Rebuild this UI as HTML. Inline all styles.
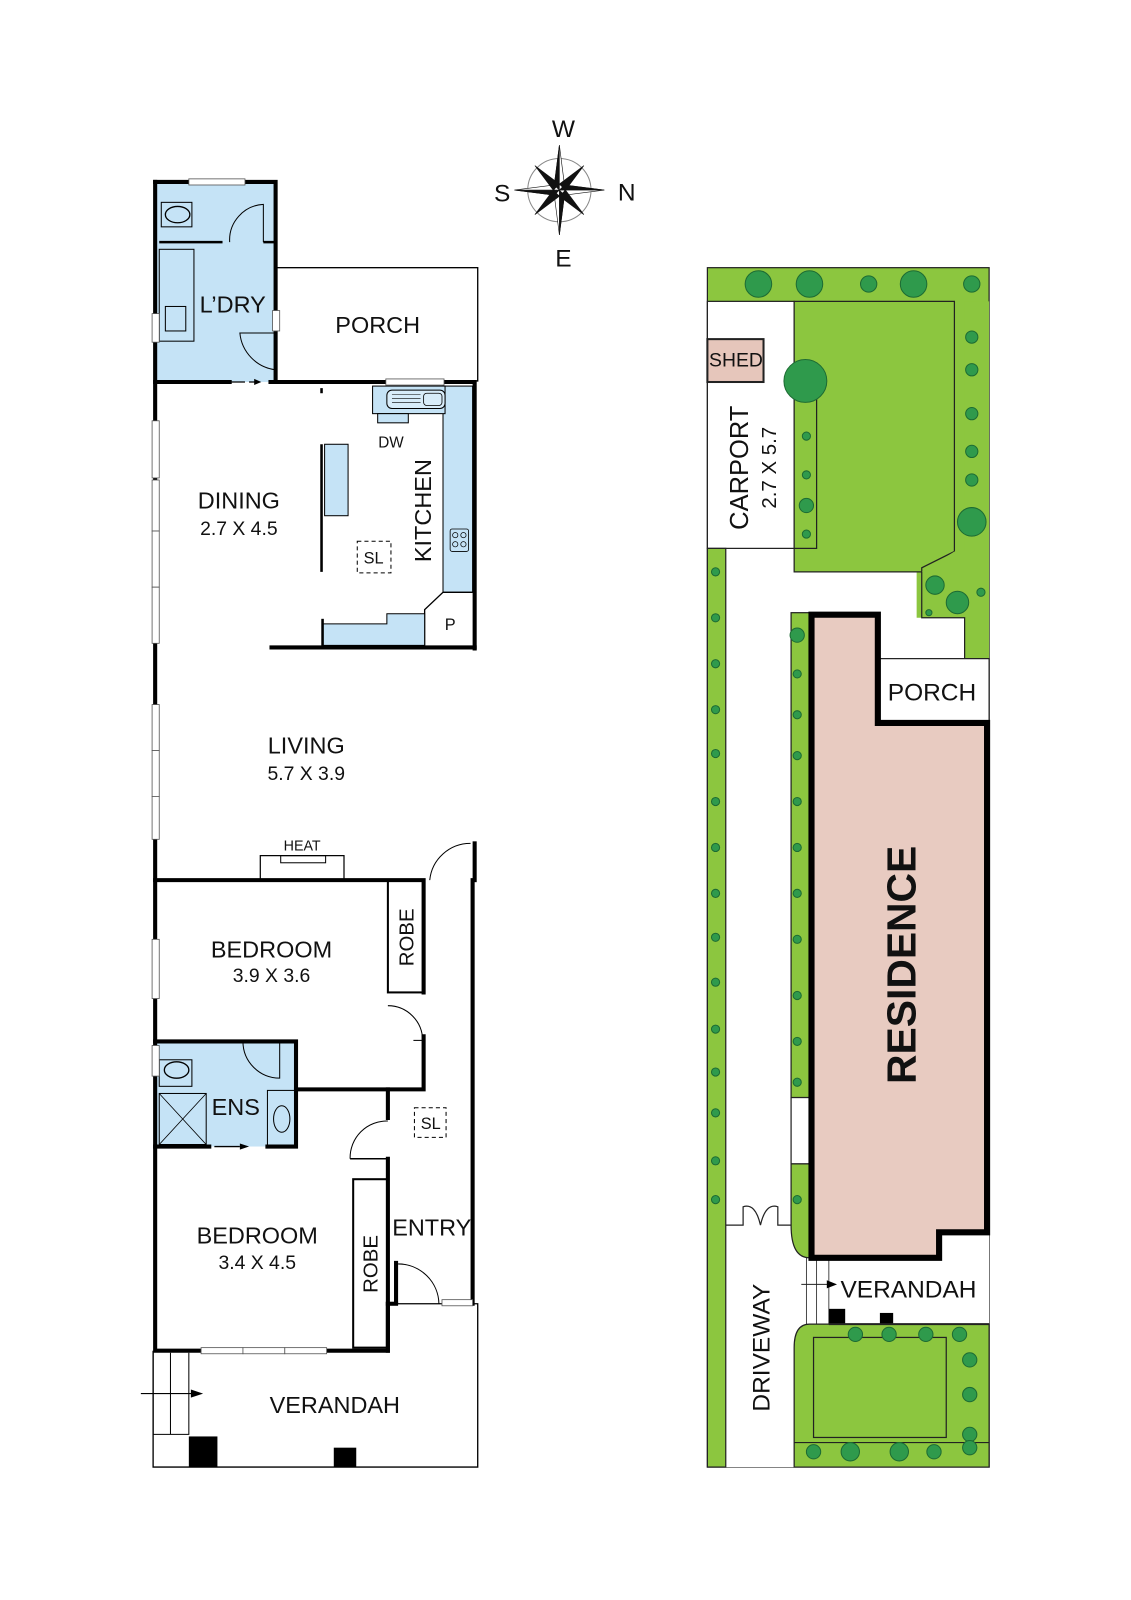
<!DOCTYPE html>
<html><head><meta charset="utf-8"><style>
html,body{margin:0;padding:0;background:#fff;}
svg{display:block;}
text{font-family:"Liberation Sans",sans-serif;fill:#111;}
</style></head><body>
<svg width="1131" height="1600" viewBox="0 0 1108 1567" xmlns="http://www.w3.org/2000/svg">

<!-- ================= COMPASS ================= -->
<g transform="translate(548,186)">
  <circle r="31" fill="none" stroke="#888" stroke-width="1"/>
  <g fill="#111" stroke="#111" stroke-width="0.6">
    <polygon points="0,-44 5,-5 -5,-5" fill="#fff"/>
    <polygon points="0,-44 0,0 -5,-5"/>
    <polygon points="44,0 5,5 5,-5" fill="#fff"/>
    <polygon points="44,0 0,0 5,-5"/>
    <polygon points="0,44 -5,5 5,5" fill="#fff"/>
    <polygon points="0,44 0,0 5,5"/>
    <polygon points="-44,0 -5,-5 -5,5" fill="#fff"/>
    <polygon points="-44,0 0,0 -5,5"/>
    <polygon points="24,-24 6,0 0,-6"/>
    <polygon points="24,24 0,6 6,0"/>
    <polygon points="-24,24 -6,0 0,6"/>
    <polygon points="-24,-24 0,-6 -6,0"/>
  </g>
  <text x="4" y="-52" font-size="24" text-anchor="middle">W</text>
  <text x="66" y="10" font-size="24" text-anchor="middle">N</text>
  <text x="-56" y="11" font-size="24" text-anchor="middle">S</text>
  <text x="4" y="75" font-size="24" text-anchor="middle">E</text>
</g>

<!-- ================= LEFT FLOOR PLAN ================= -->
<g stroke="#000" fill="none">
  <rect x="153" y="180" width="118" height="194" fill="#c5e3f6" stroke="none"/>
  <rect x="153" y="1020" width="137" height="103" fill="#c5e3f6" stroke="none"/>
  <rect x="271" y="262" width="197" height="111" stroke-width="1.3"/>
  <polyline points="380,1277 468,1277 468,1437 150,1437 150,1323" stroke-width="1.3"/>
  <path d="M150,1325 V1405 H185 V1325 M167,1325 V1405" stroke-width="1"/>
  <path d="M138,1365 H195" stroke-width="1"/>
  <polygon points="187,1361 199,1365 187,1369" fill="#000" stroke="none"/>
  <rect x="185" y="1407" width="28" height="30" fill="#000" stroke="none"/>
  <rect x="327" y="1418" width="22" height="19" fill="#000" stroke="none"/>

  <g stroke-width="4" stroke-linecap="square">
    <path d="M152,178 V1323 H380 V1277"/>
    <path d="M152,178 H185 M240,178 H270 V374"/>
    <path d="M152,374 H225 M265,374 H465 V635"/>
    <path d="M266,634 H465"/>
    <path d="M465,862 V826"/>
    <path d="M152,862 H415 V972 M415,1015 V1067 H290"/>
    <path d="M152,1020 H290 V1123 H262 M152,1123 H205"/>
    <path d="M463,862 V1277 H435"/>
    <path d="M380,1067 V1095 M380,1135 V1323"/>
    <path d="M388,1277 H380"/>
  </g>
  <path d="M156,237 H218 M258,237 H270" stroke-width="2.5"/>
  <rect x="158" y="198" width="30" height="24" fill="#c5e3f6" stroke-width="1"/>
  <ellipse cx="174" cy="210" rx="12" ry="8" stroke-width="1.3"/>
  <rect x="156" y="244" width="34" height="90" stroke-width="1"/>
  <rect x="162" y="300" width="20" height="24" stroke-width="1"/>
  <path d="M225,237 A35,35 0 0 1 258,200 V237" stroke-width="1"/>
  <path d="M235,326 A40,40 0 0 0 270,362 V326 Z" stroke-width="1"/>
  <path d="M222,374 H240 M244,374 H254" stroke-width="1.3"/>
  <polygon points="249,371 256,374 249,377" fill="#000" stroke="none"/>

  <rect x="434" y="378" width="29" height="202" fill="#c5e3f6" stroke-width="1"/>
  <rect x="365" y="378" width="71" height="27" fill="#c5e3f6" stroke-width="1"/>
  <rect x="370" y="405" width="30" height="9" fill="#c5e3f6" stroke-width="1"/>
  <rect x="379" y="382" width="57" height="18" rx="5" fill="#d8ecf9" stroke-width="1"/>
  <rect x="415" y="385" width="18" height="12" rx="3" stroke-width="0.8"/>
  <path d="M384,386 H412 M384,390 H412 M384,394 H412" stroke-width="0.6"/>
  <rect x="441" y="518" width="18" height="22" rx="2" stroke-width="0.8"/>
  <circle cx="446" cy="524" r="2.6" stroke-width="0.7"/><circle cx="454" cy="524" r="2.6" stroke-width="0.7"/>
  <circle cx="446" cy="533" r="2.6" stroke-width="0.7"/><circle cx="454" cy="533" r="2.6" stroke-width="0.7"/>
  <path d="M315,435 V560" stroke-width="2.5"/>
  <path d="M315,380 V385" stroke-width="2.5"/>
  <rect x="318" y="435" width="23" height="70" fill="#c5e3f6" stroke-width="1"/>
  <rect x="350" y="530" width="33" height="31" stroke-width="1" stroke-dasharray="4,3"/>
  <path d="M416,632 V597 L434,580 H463" stroke-width="1.3"/>
  <path d="M316,632 V611 H379 V601 H416 V632 Z" fill="#c5e3f6" stroke-width="1"/>
  <path d="M316,606 V634" stroke-width="2.5"/>

  <rect x="255" y="838" width="82" height="24" stroke-width="1.2"/>
  <rect x="275" y="838" width="44" height="7" stroke-width="1"/>
  <path d="M421,862 A40,40 0 0 1 461,826" stroke-width="1"/>

  <rect x="380" y="862" width="35" height="110" stroke-width="2"/>
  <path d="M380,985 A34,34 0 0 1 414,1019" stroke-width="1"/>
  <path d="M415,1019 H405" stroke-width="1"/>

  <rect x="156" y="1038" width="32" height="26" fill="#c5e3f6" stroke-width="1"/>
  <ellipse cx="173" cy="1048" rx="12" ry="8" stroke-width="1.3"/>
  <rect x="156" y="1071" width="46" height="50" stroke-width="1"/>
  <path d="M156,1071 L202,1121 M202,1071 L156,1121" stroke-width="0.8"/>
  <path d="M238,1020 A36,36 0 0 0 274,1056 V1020" stroke-width="1"/>
  <rect x="262" y="1068" width="28" height="55" stroke-width="1"/>
  <ellipse cx="276" cy="1096" rx="8" ry="13" stroke-width="1"/>
  <path d="M210,1123 H235" stroke-width="1.3"/>
  <polygon points="235,1120 244,1123 235,1126" fill="#000" stroke="none"/>

  <path d="M343,1135 A36,36 0 0 1 380,1098" stroke-width="1"/>
  <path d="M343,1135 H380" stroke-width="1.5"/>
  <rect x="406" y="1085" width="31" height="29" stroke-width="1" stroke-dasharray="4,3"/>
  <rect x="346" y="1155" width="34" height="165" stroke-width="2"/>
  <path d="M390,1238 A40,40 0 0 1 430,1277" stroke-width="1"/>
  <path d="M388,1235 V1277" stroke-width="4"/>

  <g fill="#fff" stroke="#555" stroke-width="0.8">
    <rect x="185" y="175" width="55" height="6"/>
    <rect x="378" y="371" width="57" height="6"/>
    <rect x="267" y="304" width="7" height="20"/>
    <rect x="149" y="307" width="7" height="28"/>
    <rect x="149" y="412" width="7" height="56"/>
    <rect x="149" y="470" width="7" height="50"/>
    <rect x="149" y="520" width="7" height="55"/>
    <rect x="149" y="575" width="7" height="55"/>
    <rect x="149" y="690" width="7" height="45"/>
    <rect x="149" y="735" width="7" height="45"/>
    <rect x="149" y="780" width="7" height="42"/>
    <rect x="149" y="920" width="7" height="58"/>
    <rect x="149" y="1024" width="7" height="30"/>
    <rect x="197" y="1320" width="41" height="6"/>
    <rect x="238" y="1320" width="41" height="6"/>
    <rect x="279" y="1320" width="41" height="6"/>
    <rect x="433" y="1273" width="30" height="6"/>
  </g>
</g>

<g font-size="23">
  <text x="228" y="306" text-anchor="middle">L’DRY</text>
  <text x="370" y="326" text-anchor="middle">PORCH</text>
  <text x="234" y="498" text-anchor="middle">DINING</text>
  <text x="234" y="524" text-anchor="middle" font-size="19">2.7 X 4.5</text>
  <text x="383" y="438" font-size="15" text-anchor="middle">DW</text>
  <text x="366" y="552" font-size="16" text-anchor="middle">SL</text>
  <text transform="translate(422,500) rotate(-90)" text-anchor="middle">KITCHEN</text>
  <text x="441" y="617" font-size="16" text-anchor="middle">P</text>
  <text x="300" y="738" text-anchor="middle">LIVING</text>
  <text x="300" y="764" text-anchor="middle" font-size="19">5.7 X 3.9</text>
  <text x="296" y="833" text-anchor="middle" font-size="14">HEAT</text>
  <text x="266" y="938" text-anchor="middle">BEDROOM</text>
  <text x="266" y="962" text-anchor="middle" font-size="19">3.9 X 3.6</text>
  <text transform="translate(405,918) rotate(-90)" text-anchor="middle" font-size="20">ROBE</text>
  <text x="231" y="1092" text-anchor="middle">ENS</text>
  <text x="422" y="1106" text-anchor="middle" font-size="16">SL</text>
  <text x="252" y="1218" text-anchor="middle">BEDROOM</text>
  <text x="252" y="1243" text-anchor="middle" font-size="19">3.4 X 4.5</text>
  <text transform="translate(370,1238) rotate(-90)" text-anchor="middle" font-size="20">ROBE</text>
  <text x="423" y="1210" text-anchor="middle">ENTRY</text>
  <text x="328" y="1384" text-anchor="middle">VERANDAH</text>
</g>

<!-- ================= SITE PLAN ================= -->
<g stroke="#222" stroke-width="1.2">
  <rect x="693" y="262" width="276" height="1175" fill="#8cc63f"/>
  <polygon points="711,537 778,537 778,560 898,560 898,605 945,605 945,645 969,645 969,1437 711,1437" fill="#fff" stroke="none"/>
  <rect x="693" y="295" width="85" height="242" fill="#fff"/>
  <rect x="693" y="332" width="55" height="42" fill="#e6c6bb" stroke-width="2"/>
  <polygon points="778,295 935,295 935,540 903,556 903,560 778,560" fill="#8cc63f"/>
  <rect x="778" y="390" width="22" height="147" fill="#8cc63f"/>
  <polygon points="903,560 935,540 945,540 945,295 969,295 969,645 945,645 945,605 903,605" fill="#8cc63f" stroke="none"/>
  <polyline points="903,560 903,605 945,605 945,645 969,645" fill="none"/>
  <rect x="693" y="537" width="18" height="900" fill="#8cc63f"/>
  <rect x="775" y="600" width="18" height="475" fill="#8cc63f"/>
  <rect x="775" y="1075" width="18" height="65" fill="#fff"/>
  <path d="M775,1140 H793 V1232 Q775,1232 775,1200 Z" fill="#8cc63f"/>
  <path d="M793,1297 H969 V1437 H778 V1320 Q778,1297 793,1297 Z" fill="#8cc63f"/>
  <rect x="797" y="1310" width="130" height="98" fill="none"/>
  <path d="M778,1413 H969" fill="none"/>
  <path d="M711,1200 H728 V1182 Q740,1178 745,1200 Q750,1178 762,1182 V1200 H775" fill="#fff"/>
  <path d="M790,1232 V1297 M800,1232 V1297 M812,1232 V1297" fill="none" stroke-width="0.8"/>
  <path d="M785,1258 H812" stroke-width="1"/>
  <polygon points="810,1254 820,1258 810,1262" fill="#000" stroke="none"/>
  <rect x="812" y="1282" width="16" height="15" fill="#000" stroke="none"/>
  <rect x="862" y="1286" width="13" height="11" fill="#000" stroke="none"/>
  <path d="M812,1297 H969" stroke-width="2"/>
  <rect x="860" y="645" width="109" height="63" fill="#fff"/>
  <polygon points="795,602 860,602 860,708 967,708 967,1207 920,1207 920,1232 795,1232" fill="#e8cbc1" stroke="#000" stroke-width="6"/>
</g>

<g fill="#2f9a4c" stroke="#1d6b33" stroke-width="1">
  <circle cx="743" cy="278" r="13"/><circle cx="793" cy="278" r="13"/><circle cx="851" cy="278" r="8"/>
  <circle cx="895" cy="278" r="13"/><circle cx="952" cy="278" r="8"/>
  <circle cx="952" cy="330" r="6"/><circle cx="952" cy="362" r="6"/><circle cx="952" cy="405" r="6"/>
  <circle cx="952" cy="442" r="6"/><circle cx="952" cy="470" r="6"/><circle cx="952" cy="511" r="14"/>
  <circle cx="789" cy="373" r="21"/>
  <circle cx="790" cy="427" r="4"/><circle cx="790" cy="465" r="4"/><circle cx="790" cy="495" r="7"/><circle cx="790" cy="523" r="4"/>
  <circle cx="916" cy="573" r="9"/><circle cx="938" cy="590" r="11"/><circle cx="961" cy="580" r="4"/><circle cx="910" cy="600" r="3"/>
  <circle cx="781" cy="622" r="7"/><circle cx="781" cy="660" r="4"/><circle cx="781" cy="700" r="4"/><circle cx="781" cy="740" r="4"/>
  <circle cx="781" cy="785" r="4"/><circle cx="781" cy="830" r="4"/><circle cx="781" cy="875" r="4"/><circle cx="781" cy="920" r="4"/>
  <circle cx="781" cy="975" r="4"/><circle cx="781" cy="1020" r="4"/><circle cx="781" cy="1060" r="4"/><circle cx="781" cy="1175" r="4"/>
  <circle cx="701" cy="560" r="4"/><circle cx="701" cy="605" r="4"/><circle cx="701" cy="650" r="4"/><circle cx="701" cy="695" r="4"/>
  <circle cx="701" cy="738" r="4"/><circle cx="701" cy="785" r="4"/><circle cx="701" cy="830" r="4"/><circle cx="701" cy="875" r="4"/>
  <circle cx="701" cy="918" r="4"/><circle cx="701" cy="962" r="4"/><circle cx="701" cy="1008" r="4"/><circle cx="701" cy="1050" r="4"/>
  <circle cx="701" cy="1090" r="4"/><circle cx="701" cy="1137" r="4"/><circle cx="701" cy="1175" r="4"/>
  <circle cx="838" cy="1307" r="7"/><circle cx="871" cy="1307" r="7"/><circle cx="907" cy="1307" r="7"/><circle cx="940" cy="1307" r="7"/>
  <circle cx="950" cy="1332" r="7"/><circle cx="950" cy="1366" r="7"/><circle cx="950" cy="1405" r="7"/>
  <circle cx="797" cy="1422" r="7"/><circle cx="833" cy="1422" r="9"/><circle cx="881" cy="1422" r="9"/><circle cx="915" cy="1422" r="7"/><circle cx="950" cy="1418" r="7"/>
</g>

<g font-size="23">
  <text x="721" y="359" text-anchor="middle" font-size="19">SHED</text>
  <text transform="translate(733,458) rotate(-90)" text-anchor="middle" font-size="25">CARPORT</text>
  <text transform="translate(760,458) rotate(-90)" text-anchor="middle" font-size="20">2.7 X 5.7</text>
  <text x="913" y="686" text-anchor="middle" font-size="24">PORCH</text>
  <text transform="translate(897,945) rotate(-90)" text-anchor="middle" font-size="40" font-weight="bold">RESIDENCE</text>
  <text x="890" y="1271" text-anchor="middle" font-size="24">VERANDAH</text>
  <text transform="translate(754,1320) rotate(-90)" text-anchor="middle" font-size="24">DRIVEWAY</text>
</g>
</svg>
</body></html>
